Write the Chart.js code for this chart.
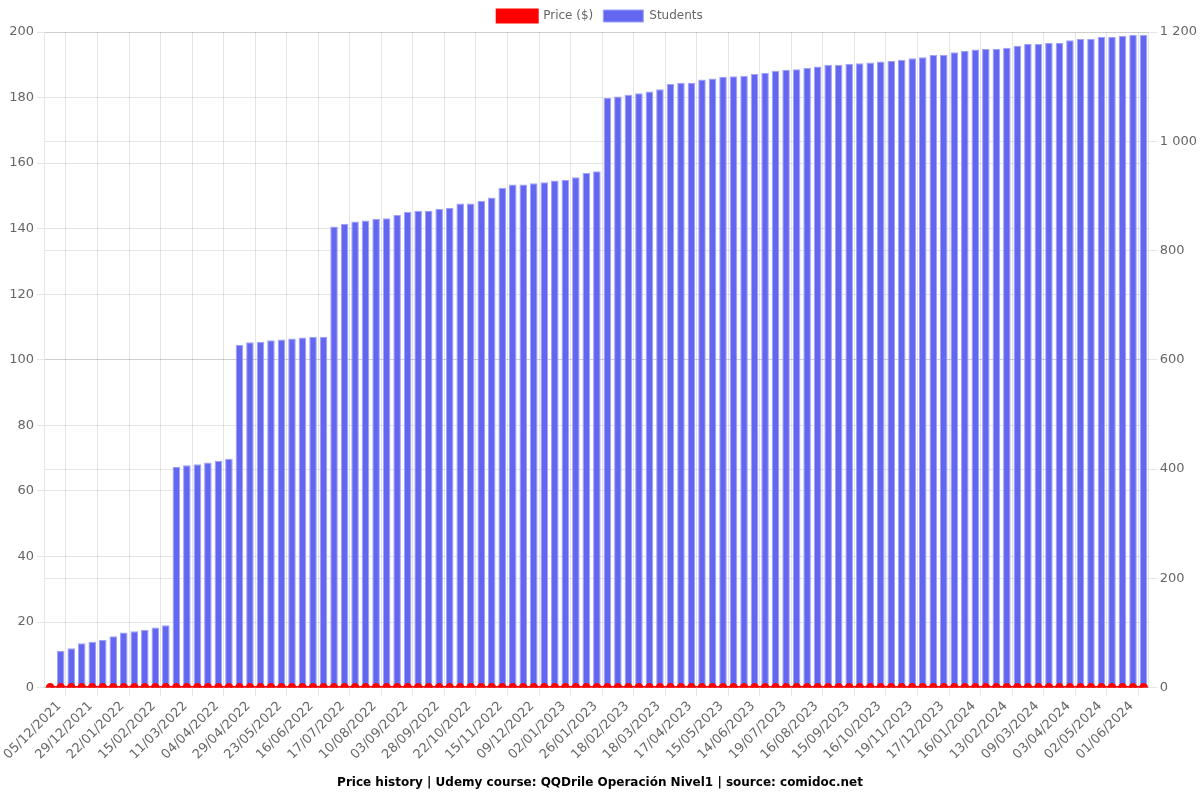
<!DOCTYPE html>
<html>
<head>
<meta charset="utf-8">
<script src="https://cdn.jsdelivr.net/npm/chart.js@4/dist/chart.umd.min.js"></script>
<style>
html,body{margin:0;padding:0;background:#fff;}
#wrap{width:1200px;height:800px;}
</style>
</head>
<body>
<div id="wrap"><canvas id="c"></canvas></div>
<script>
const dates = [
"05/12/2021","13/12/2021","21/12/2021","29/12/2021","06/01/2022","14/01/2022","22/01/2022","30/01/2022","07/02/2022","15/02/2022",
"23/02/2022","03/03/2022","11/03/2022","19/03/2022","27/03/2022","04/04/2022","12/04/2022","20/04/2022","29/04/2022","07/05/2022",
"15/05/2022","23/05/2022","31/05/2022","08/06/2022","16/06/2022","26/06/2022","06/07/2022","17/07/2022","25/07/2022","02/08/2022",
"10/08/2022","18/08/2022","26/08/2022","03/09/2022","11/09/2022","19/09/2022","28/09/2022","06/10/2022","14/10/2022","22/10/2022",
"30/10/2022","07/11/2022","15/11/2022","23/11/2022","01/12/2022","09/12/2022","17/12/2022","25/12/2022","02/01/2023","10/01/2023",
"18/01/2023","26/01/2023","02/02/2023","10/02/2023","18/02/2023","27/02/2023","08/03/2023","18/03/2023","28/03/2023","07/04/2023",
"17/04/2023","26/04/2023","05/05/2023","15/05/2023","25/05/2023","04/06/2023","14/06/2023","26/06/2023","07/07/2023","19/07/2023",
"28/07/2023","06/08/2023","16/08/2023","26/08/2023","05/09/2023","15/09/2023","25/09/2023","05/10/2023","16/10/2023","27/10/2023",
"07/11/2023","19/11/2023","28/11/2023","07/12/2023","17/12/2023","27/12/2023","06/01/2024","16/01/2024","25/01/2024","03/02/2024",
"13/02/2024","21/02/2024","29/02/2024","09/03/2024","17/03/2024","25/03/2024","03/04/2024","13/04/2024","23/04/2024","02/05/2024",
"12/05/2024","22/05/2024","01/06/2024","11/06/2024","21/06/2024"
];
const students = [
0,67,72,81,84,87,94,101,103,106,
110,114,404,407,409,412,415,419,627,632,
633,636,637,639,641,642,642,844,849,853,
855,858,859,865,871,873,873,876,878,886,
886,891,897,915,921,921,923,925,928,929,
934,942,945,1079,1082,1085,1088,1091,1095,1105,
1107,1107,1113,1115,1118,1119,1120,1123,1125,1129,
1131,1132,1134,1137,1140,1140,1142,1143,1144,1146,
1147,1149,1152,1154,1158,1158,1163,1165,1168,1169,
1169,1171,1175,1178,1178,1180,1180,1185,1187,1187,
1191,1191,1193,1195,1195
];
const prices = dates.map(() => 0);
const titleText = "Price history | Udemy course: QQDrile Operación Nivel1 | source: comidoc.net";

Chart.defaults.font.family = "'DejaVu Sans', sans-serif";
Chart.defaults.color = "#666";

new Chart(document.getElementById('c'), {
  type: 'bar',
  data: {
    labels: dates,
    datasets: [
      {
        type: 'line',
        label: 'Price ($)',
        data: prices,
        yAxisID: 'y',
        borderColor: 'rgb(255,0,0)',
        backgroundColor: 'rgb(255,0,0)',
        borderWidth: 3,
        pointRadius: 3,
        pointBackgroundColor: 'rgb(255,0,0)',
        pointBorderColor: 'rgb(255,0,0)',
        tension: 0
      },
      {
        type: 'bar',
        label: 'Students',
        data: students,
        yAxisID: 'y1',
        backgroundColor: 'rgb(99,102,241)',
        borderColor: 'rgba(160,163,245,1)',
        borderWidth: 1
      }
    ]
  },
  options: {
    responsive: true,
    maintainAspectRatio: false,
    animation: false,
    plugins: {
      legend: { position: 'top' },
      title: {
        display: true,
        text: titleText,
        position: 'bottom',
        color: '#000',
        font: { size: 12, weight: 'bold' }
      },
      tooltip: { enabled: false }
    },
    scales: {
      x: {
        ticks: { maxRotation: 45, minRotation: 45, labelOffset: 9, font: { size: 13 } },
        afterFit: s => { s.paddingLeft = Math.max(0, s.paddingLeft - 6); }
      },
      y: {
        position: 'left',
        min: 0,
        max: 200,
        ticks: { stepSize: 20, font: { size: 13 } }
      },
      y1: {
        position: 'right',
        min: 0,
        max: 1200,
        ticks: {
          stepSize: 200,
          font: { size: 13 },
          callback: v => String(v).replace(/\B(?=(\d{3})+(?!\d))/g, ' ')
        }
      }
    }
  }
});
</script>
</body>
</html>
